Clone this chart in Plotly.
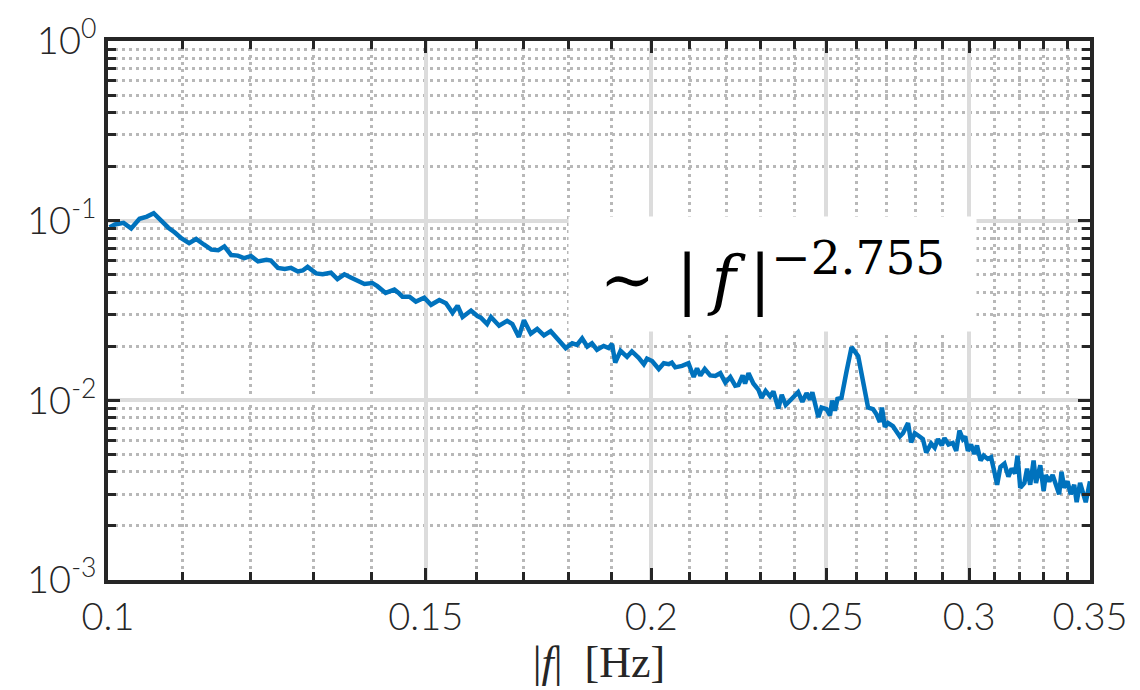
import plotly.graph_objects as go

# ---- data ----
freq = [
    0.1002, 0.1009, 0.1020, 0.1030, 0.1041, 0.1051, 0.1060, 0.1071, 0.1080, 0.1089,
    0.1098, 0.1109, 0.1119, 0.1130, 0.1141, 0.1151, 0.1160, 0.1170, 0.1180, 0.1190,
    0.1200, 0.1211, 0.1224, 0.1231, 0.1242, 0.1253, 0.1263, 0.1274, 0.1282, 0.1290,
    0.1304, 0.1315, 0.1329, 0.1340, 0.1352, 0.1363, 0.1375, 0.1387, 0.1401, 0.1410,
    0.1425, 0.1441, 0.1450,
    0.1456, 0.1469, 0.1481, 0.1497, 0.1510, 0.1526, 0.1539, 0.1552, 0.1562, 0.1572,
    0.1589, 0.1602, 0.1609, 0.1622, 0.1630, 0.1647, 0.1664, 0.1675, 0.1689, 0.1700,
    0.1715, 0.1729, 0.1744, 0.1759, 0.1777, 0.1793, 0.1808, 0.1819, 0.1831, 0.1843,
    0.1854, 0.1866, 0.1882, 0.1894, 0.1902, 0.1910, 0.1923, 0.1939, 0.1951, 0.1968,
    0.1981, 0.1989, 0.2002, 0.2019, 0.2032, 0.2045, 0.2053, 0.2062, 0.2080, 0.2097,
    0.2111, 0.2120, 0.2129, 0.2141, 0.2156, 0.2170, 0.2184, 0.2198, 0.2212, 0.2226,
    0.2235, 0.2247, 0.2254, 0.2264, 0.2278, 0.2293, 0.2302, 0.2314, 0.2327, 0.2337,
    0.2352, 0.2362, 0.2374, 0.2392, 0.2412, 0.2425, 0.2438, 0.2449, 0.2456, 0.2475,
    0.2485, 0.2501, 0.2512, 0.2519, 0.2528, 0.2536, 0.2549, 0.2565, 0.2582, 0.2604,
    0.2620, 0.2637, 0.2654, 0.2665, 0.2677, 0.2684, 0.2694, 0.2705, 0.2722,
    0.2746, 0.2757, 0.2775, 0.2786, 0.2799, 0.2816, 0.2828, 0.2840, 0.2858, 0.2871,
    0.2883, 0.2897, 0.2907, 0.2922, 0.2938, 0.2951, 0.2963, 0.2976, 0.2985, 0.2995,
    0.3007, 0.3020, 0.3030, 0.3044, 0.3056, 0.3072, 0.3085, 0.3098, 0.3109, 0.3122,
    0.3138, 0.3154, 0.3167, 0.3181, 0.3191, 0.3202, 0.3219, 0.3230, 0.3243, 0.3257,
    0.3267, 0.3285, 0.3299, 0.3308, 0.3323, 0.3337, 0.3351, 0.3365, 0.3375, 0.3387,
    0.3401, 0.3415, 0.3430, 0.3441, 0.3456, 0.3466, 0.3481, 0.3500,
]
psd = [
    0.0920, 0.0952, 0.0972, 0.0906, 0.1025, 0.1054, 0.1100, 0.0991, 0.0914, 0.0859,
    0.0798, 0.0750, 0.0791, 0.0737, 0.0690, 0.0684, 0.0719, 0.0644, 0.0639, 0.0618,
    0.0636, 0.0593, 0.0605, 0.0600, 0.0546, 0.0539, 0.0546, 0.0522, 0.0528, 0.0553,
    0.0509, 0.0503, 0.0513, 0.0473, 0.0503, 0.0483, 0.0463, 0.0444, 0.0450, 0.0432,
    0.0396, 0.0413, 0.0393,
    0.03771, 0.0377, 0.03545, 0.03724, 0.03402, 0.03620, 0.03471, 0.03068, 0.03361, 0.02909,
    0.03160, 0.02945, 0.02884, 0.02659, 0.02909, 0.02603, 0.02769, 0.02659, 0.02253, 0.02793,
    0.02350, 0.02500, 0.02301, 0.02427, 0.02163, 0.01953, 0.02077, 0.02034, 0.02209, 0.01992,
    0.02077, 0.01912, 0.02009, 0.01953, 0.02060, 0.01622, 0.01888, 0.01747, 0.01872, 0.01726,
    0.01589, 0.01704, 0.01655, 0.01494, 0.01609, 0.01589, 0.01622, 0.01526, 0.01556, 0.01609,
    0.01348, 0.01507, 0.01375, 0.01494, 0.01375, 0.01365, 0.01416, 0.01256, 0.01348, 0.01207,
    0.01216, 0.01375, 0.01241, 0.01416, 0.01241, 0.01142, 0.01031, 0.01129, 0.01053, 0.01120,
    0.00900, 0.01074, 0.00942, 0.01010, 0.01110, 0.00982, 0.01097, 0.01010, 0.01110, 0.00806,
    0.00912, 0.00893, 0.00823, 0.00997, 0.00875, 0.01019, 0.01031, 0.01434, 0.01977, 0.01760,
    0.01293, 0.00912, 0.00893, 0.00839, 0.00757, 0.00912, 0.00712, 0.00748, 0.00718,
    0.00629, 0.00656, 0.00748, 0.00584, 0.00656, 0.00629, 0.00609, 0.00512, 0.00575, 0.00545,
    0.00609, 0.00561, 0.00616, 0.00568, 0.00579, 0.00523, 0.00678, 0.00609, 0.00629, 0.00523,
    0.00568, 0.00502, 0.00561, 0.00462, 0.00492, 0.00472, 0.00482, 0.00400, 0.00339, 0.00426,
    0.00444, 0.00376, 0.00417, 0.00392, 0.00492, 0.00326, 0.00347, 0.00417, 0.00339, 0.00462,
    0.00347, 0.00435, 0.00313, 0.00384, 0.00354, 0.00384, 0.00339, 0.00300, 0.00400, 0.00326,
    0.00354, 0.00300, 0.00339, 0.00271, 0.00347, 0.00313, 0.00271, 0.00354,
]

x_ticks = [0.1, 0.15, 0.2, 0.25, 0.3, 0.35]
x_ticklabels = ["0.1", "0.15", "0.2", "0.25", "0.3", "0.35"]
x_minor = [0.11, 0.12, 0.13, 0.14, 0.16, 0.17, 0.18, 0.19, 0.21, 0.22, 0.23, 0.24,
           0.26, 0.27, 0.28, 0.29, 0.31, 0.32, 0.33, 0.34]
y_ticks = [0.001, 0.01, 0.1, 1]
y_ticklabels = ["10<sup>-3</sup>", "10<sup>-2</sup>", "10<sup>-1</sup>", "10<sup>0</sup>"]
y_minor = [m * d for d in (0.001, 0.01, 0.1) for m in range(2, 10)]
annotation_text = ("∼ |\u2009<i>f</i>\u2009|<sup><span style='font-size:47px'>−2.755</span></sup>")
x_title = "|<i>f</i>|  [Hz]"

AX = "#262626"
GRID = "#dcdcdc"
MINOR = "#b8b8b8"
TICKFONT = dict(family="Lato, sans-serif", size=38, color=AX, weight=300)

fig = go.Figure()
fig.add_trace(go.Scatter(x=freq, y=psd, mode="lines",
                         line=dict(color="#0072BD", width=4.5),
                         showlegend=False, hoverinfo="skip"))

fig.update_xaxes(
    type="log", range=[-1, -0.45593],
    tickmode="array", tickvals=x_ticks, ticktext=x_ticklabels,
    ticks="inside", ticklen=12, tickwidth=3, tickcolor=AX,
    showline=True, linewidth=4, linecolor=AX, mirror="allticks",
    showgrid=True, gridcolor=GRID, gridwidth=3.5, zeroline=False,
    tickfont=TICKFONT,
    minor=dict(tickmode="array", tickvals=x_minor, ticks="inside", ticklen=8,
               tickwidth=3, tickcolor=AX, showgrid=True, gridcolor=MINOR,
               gridwidth=3, griddash="3px,4px"),
    title=dict(text=x_title, font=dict(family="Liberation Serif, serif", size=44, color=AX),
               standoff=10),
)
fig.update_yaxes(
    type="log", range=[-3, 0],
    tickmode="array", tickvals=y_ticks, ticktext=y_ticklabels,
    ticks="inside", ticklen=12, tickwidth=3, tickcolor=AX,
    showline=True, linewidth=4, linecolor=AX, mirror="allticks",
    showgrid=True, gridcolor=GRID, gridwidth=3.5, zeroline=False,
    tickfont=TICKFONT,
    minor=dict(tickmode="array", tickvals=y_minor, ticks="inside", ticklen=8,
               tickwidth=3, tickcolor=AX, showgrid=True, gridcolor=MINOR,
               gridwidth=3, griddash="3px,4px"),
)

fig.add_annotation(
    xref="paper", yref="paper", x=0.677, y=0.568,
    xanchor="center", yanchor="middle",
    text=annotation_text, showarrow=False,
    font=dict(family="DejaVu Serif, serif", size=66, color="black"),
    bgcolor="white", width=405, height=112, align="center",
)

fig.update_layout(
    width=1140, height=690,
    margin=dict(l=108, r=47, t=30, b=101),
    paper_bgcolor="white", plot_bgcolor="white",
)

fig.write_html("out.html")
